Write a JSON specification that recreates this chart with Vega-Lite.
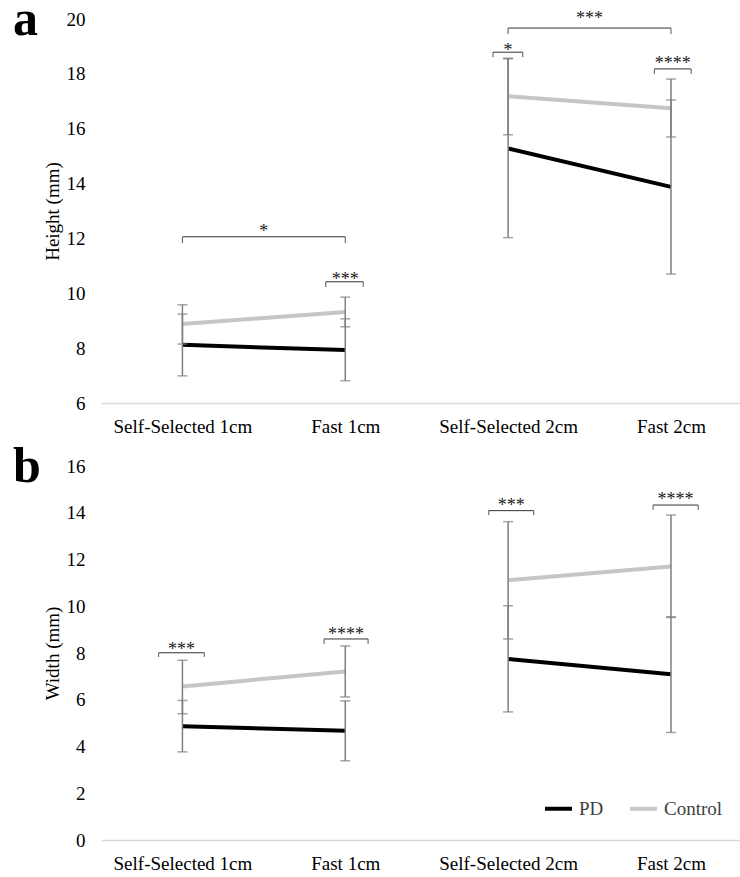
{
  "$schema": "https://vega.github.io/schema/vega-lite/v6.json",
  "padding": {"left": 13, "top": -6, "right": 0, "bottom": 0},
  "spacing": 6,
  "resolve": {"scale": {"color": "independent"}, "legend": {"color": "independent"}},
  "config": {
    "font": "Liberation Serif",
    "view": {"stroke": null},
    "axis": {"labelFont": "Liberation Serif", "titleFont": "Liberation Serif", "labelColor": "#000000", "titleColor": "#000000", "grid": false, "ticks": false, "labelFontSize": 19, "titleFontSize": 19, "titleFontWeight": "normal"},
    "axisY": {"domain": false, "labelPadding": 16, "titlePadding": 4},
    "axisX": {"domainColor": "#d9d9d9", "domainWidth": 1.5, "labelPadding": 14, "labelAngle": 0},
    "title": {"font": "Liberation Serif", "fontSize": 50, "fontWeight": "bold", "color": "#000000", "anchor": "start", "frame": "group", "baseline": "alphabetic", "dx": -88, "offset": -35}
  },
  "datasets": {
    "height": [
      {"x": 1, "pair": "1cm", "group": "PD", "mean": 8.12, "lo": 6.99, "hi": 9.24},
      {"x": 2, "pair": "1cm", "group": "PD", "mean": 7.93, "lo": 6.81, "hi": 9.07},
      {"x": 3, "pair": "2cm", "group": "PD", "mean": 15.28, "lo": 12.03, "hi": 18.55},
      {"x": 4, "pair": "2cm", "group": "PD", "mean": 13.88, "lo": 10.70, "hi": 17.05},
      {"x": 1, "pair": "1cm", "group": "Control", "mean": 8.88, "lo": 8.15, "hi": 9.58},
      {"x": 2, "pair": "1cm", "group": "Control", "mean": 9.32, "lo": 8.78, "hi": 9.86},
      {"x": 3, "pair": "2cm", "group": "Control", "mean": 17.18, "lo": 15.78, "hi": 18.57},
      {"x": 4, "pair": "2cm", "group": "Control", "mean": 16.75, "lo": 15.70, "hi": 17.81}
    ],
    "width": [
      {"x": 1, "pair": "1cm", "group": "PD", "mean": 4.87, "lo": 3.77, "hi": 5.97},
      {"x": 2, "pair": "1cm", "group": "PD", "mean": 4.67, "lo": 3.39, "hi": 5.95},
      {"x": 3, "pair": "2cm", "group": "PD", "mean": 7.74, "lo": 5.48, "hi": 10.02},
      {"x": 4, "pair": "2cm", "group": "PD", "mean": 7.09, "lo": 4.60, "hi": 9.55},
      {"x": 1, "pair": "1cm", "group": "Control", "mean": 6.57, "lo": 5.40, "hi": 7.69},
      {"x": 2, "pair": "1cm", "group": "Control", "mean": 7.21, "lo": 6.12, "hi": 8.30},
      {"x": 3, "pair": "2cm", "group": "Control", "mean": 11.11, "lo": 8.60, "hi": 13.62},
      {"x": 4, "pair": "2cm", "group": "Control", "mean": 11.70, "lo": 9.52, "hi": 13.90}
    ],
    "sigHeight": [
      {"x1": 1.0, "x2": 2.0, "y": 12.06, "yl": 11.83, "tx": 1.5, "ty": 12.05, "label": "*"},
      {"x1": 1.88, "x2": 2.11, "y": 10.42, "yl": 10.23, "tx": 2.0, "ty": 10.31, "label": "***"},
      {"x1": 2.907, "x2": 3.09, "y": 18.79, "yl": 18.61, "tx": 3.0, "ty": 18.64, "label": "*"},
      {"x1": 3.0, "x2": 4.0, "y": 19.67, "yl": 19.45, "tx": 3.5, "ty": 19.82, "label": "***"},
      {"x1": 3.898, "x2": 4.124, "y": 18.18, "yl": 18.0, "tx": 4.011, "ty": 18.19, "label": "****"}
    ],
    "sigWidth": [
      {"x1": 0.854, "x2": 1.134, "y": 8.01, "yl": 7.83, "tx": 0.994, "ty": 7.91, "label": "***"},
      {"x1": 1.87, "x2": 2.14, "y": 8.6, "yl": 8.39, "tx": 2.005, "ty": 8.57, "label": "****"},
      {"x1": 2.881, "x2": 3.157, "y": 14.09, "yl": 13.9, "tx": 3.019, "ty": 14.06, "label": "***"},
      {"x1": 3.89, "x2": 4.167, "y": 14.33, "yl": 14.12, "tx": 4.028, "ty": 14.33, "label": "****"}
    ]
  },
  "vconcat": [
    {
      "width": 640,
      "height": 384,
      "title": {"text": "a"},
      "layer": [
        {
          "data": {"name": "height"},
          "mark": {"type": "line", "strokeWidth": 4},
          "encoding": {
            "x": {"field": "x", "type": "quantitative", "scale": {"domain": [0.5, 4.43], "nice": false, "zero": false}, "axis": {"values": [1, 2, 3, 4], "title": null, "labelExpr": "['', 'Self-Selected 1cm', 'Fast 1cm', 'Self-Selected 2cm', 'Fast 2cm'][datum.value]"}},
            "y": {"field": "mean", "type": "quantitative", "scale": {"domain": [6, 20], "nice": false, "zero": false}, "axis": {"values": [6, 8, 10, 12, 14, 16, 18, 20], "title": "Height (mm)"}},
            "color": {"field": "group", "type": "nominal", "scale": {"domain": ["PD", "Control"], "range": ["#000000", "#c6c6c6"]}, "legend": null},
            "detail": {"field": "pair"}
          }
        },
        {
          "data": {"name": "height"},
          "mark": {"type": "rule", "color": "#7f7f7f", "strokeWidth": 1.5},
          "encoding": {"x": {"field": "x", "type": "quantitative"}, "y": {"field": "lo", "type": "quantitative"}, "y2": {"field": "hi"}}
        },
        {
          "data": {"name": "height"},
          "mark": {"type": "tick", "orient": "horizontal", "color": "#7f7f7f", "size": 10, "thickness": 1.5},
          "encoding": {"x": {"field": "x", "type": "quantitative"}, "y": {"field": "lo", "type": "quantitative"}}
        },
        {
          "data": {"name": "height"},
          "mark": {"type": "tick", "orient": "horizontal", "color": "#7f7f7f", "size": 10, "thickness": 1.5},
          "encoding": {"x": {"field": "x", "type": "quantitative"}, "y": {"field": "hi", "type": "quantitative"}}
        },
        {
          "data": {"name": "sigHeight"},
          "mark": {"type": "rule", "color": "#333333", "strokeWidth": 1},
          "encoding": {"x": {"field": "x1", "type": "quantitative"}, "x2": {"field": "x2"}, "y": {"field": "y", "type": "quantitative"}}
        },
        {
          "data": {"name": "sigHeight"},
          "mark": {"type": "rule", "color": "#555555", "strokeWidth": 1},
          "encoding": {"x": {"field": "x1", "type": "quantitative"}, "y": {"field": "y", "type": "quantitative"}, "y2": {"field": "yl"}}
        },
        {
          "data": {"name": "sigHeight"},
          "mark": {"type": "rule", "color": "#555555", "strokeWidth": 1},
          "encoding": {"x": {"field": "x2", "type": "quantitative"}, "y": {"field": "y", "type": "quantitative"}, "y2": {"field": "yl"}}
        },
        {
          "data": {"name": "sigHeight"},
          "mark": {"type": "text", "fontSize": 18, "baseline": "alphabetic", "align": "center", "color": "#1a1a1a"},
          "encoding": {"x": {"field": "tx", "type": "quantitative"}, "y": {"field": "ty", "type": "quantitative"}, "text": {"field": "label"}}
        }
      ]
    },
    {
      "width": 640,
      "height": 374,
      "title": {"text": "b"},
      "layer": [
        {
          "data": {"name": "width"},
          "mark": {"type": "line", "strokeWidth": 4},
          "encoding": {
            "x": {"field": "x", "type": "quantitative", "scale": {"domain": [0.5, 4.43], "nice": false, "zero": false}, "axis": {"values": [1, 2, 3, 4], "title": null, "labelExpr": "['', 'Self-Selected 1cm', 'Fast 1cm', 'Self-Selected 2cm', 'Fast 2cm'][datum.value]"}},
            "y": {"field": "mean", "type": "quantitative", "scale": {"domain": [0, 16], "nice": false}, "axis": {"values": [0, 2, 4, 6, 8, 10, 12, 14, 16], "title": "Width (mm)"}},
            "color": {"field": "group", "type": "nominal", "scale": {"domain": ["PD", "Control"], "range": ["#000000", "#c6c6c6"]}, "legend": {"title": null, "orient": "none", "direction": "horizontal", "legendX": 442, "legendY": 327, "symbolType": "stroke", "symbolSize": 729, "symbolStrokeWidth": 4, "labelFont": "Liberation Serif", "labelFontSize": 19, "labelColor": "#404040", "labelOffset": 5, "columnPadding": 18, "padding": 0}},
            "detail": {"field": "pair"}
          }
        },
        {
          "data": {"name": "width"},
          "mark": {"type": "rule", "color": "#7f7f7f", "strokeWidth": 1.5},
          "encoding": {"x": {"field": "x", "type": "quantitative"}, "y": {"field": "lo", "type": "quantitative"}, "y2": {"field": "hi"}}
        },
        {
          "data": {"name": "width"},
          "mark": {"type": "tick", "orient": "horizontal", "color": "#7f7f7f", "size": 10, "thickness": 1.5},
          "encoding": {"x": {"field": "x", "type": "quantitative"}, "y": {"field": "lo", "type": "quantitative"}}
        },
        {
          "data": {"name": "width"},
          "mark": {"type": "tick", "orient": "horizontal", "color": "#7f7f7f", "size": 10, "thickness": 1.5},
          "encoding": {"x": {"field": "x", "type": "quantitative"}, "y": {"field": "hi", "type": "quantitative"}}
        },
        {
          "data": {"name": "sigWidth"},
          "mark": {"type": "rule", "color": "#333333", "strokeWidth": 1},
          "encoding": {"x": {"field": "x1", "type": "quantitative"}, "x2": {"field": "x2"}, "y": {"field": "y", "type": "quantitative"}}
        },
        {
          "data": {"name": "sigWidth"},
          "mark": {"type": "rule", "color": "#555555", "strokeWidth": 1},
          "encoding": {"x": {"field": "x1", "type": "quantitative"}, "y": {"field": "y", "type": "quantitative"}, "y2": {"field": "yl"}}
        },
        {
          "data": {"name": "sigWidth"},
          "mark": {"type": "rule", "color": "#555555", "strokeWidth": 1},
          "encoding": {"x": {"field": "x2", "type": "quantitative"}, "y": {"field": "y", "type": "quantitative"}, "y2": {"field": "yl"}}
        },
        {
          "data": {"name": "sigWidth"},
          "mark": {"type": "text", "fontSize": 18, "baseline": "alphabetic", "align": "center", "color": "#1a1a1a"},
          "encoding": {"x": {"field": "tx", "type": "quantitative"}, "y": {"field": "ty", "type": "quantitative"}, "text": {"field": "label"}}
        }
      ]
    }
  ]
}
